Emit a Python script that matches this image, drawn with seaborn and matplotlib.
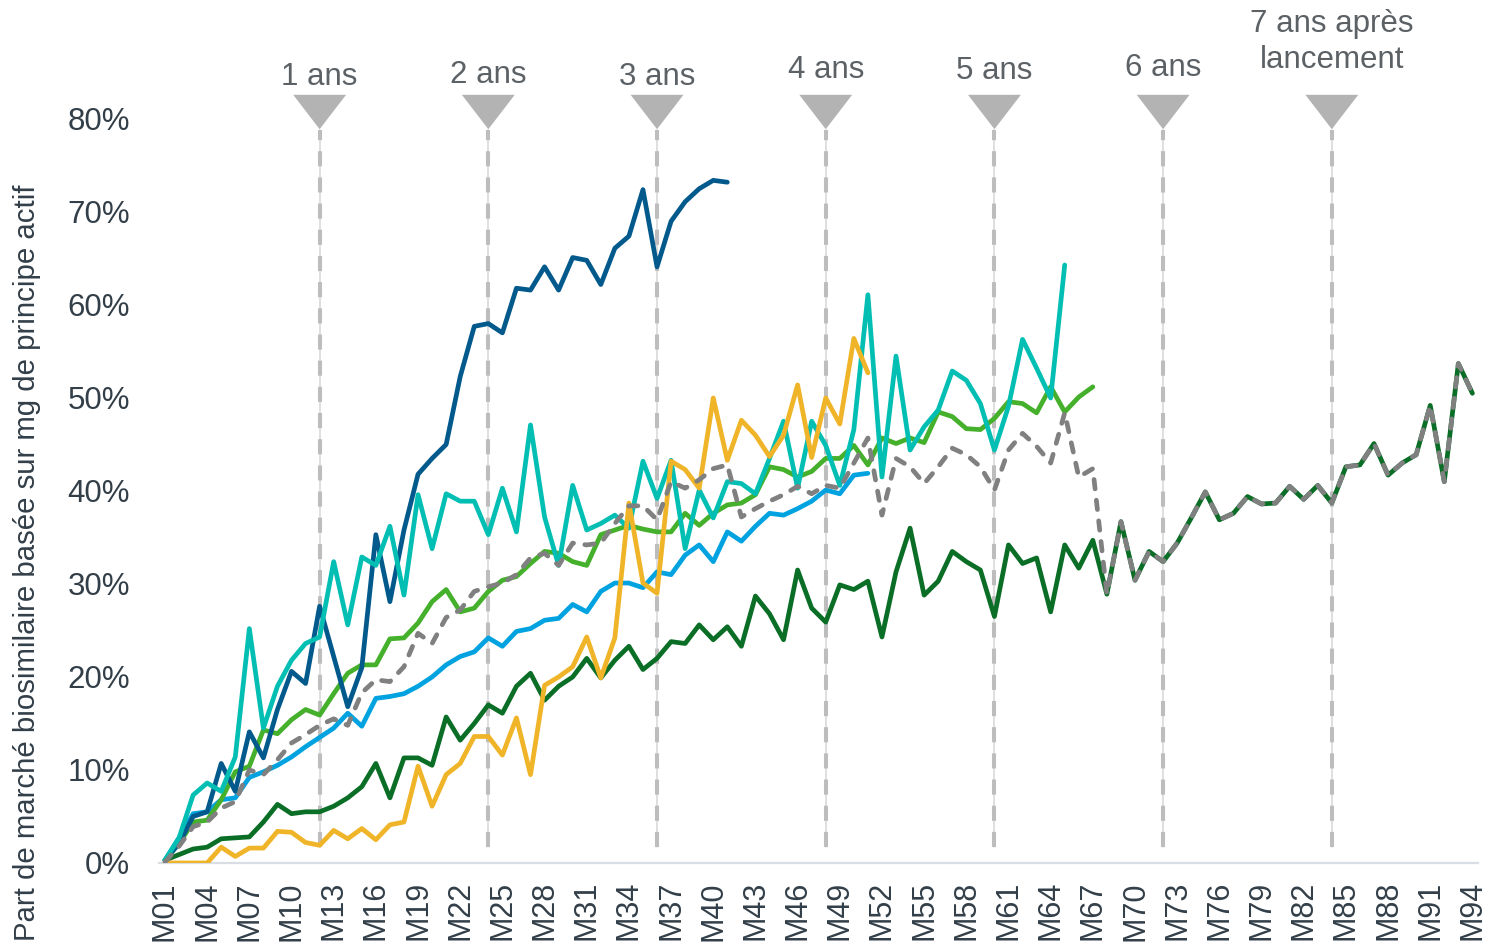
import numpy as np
import pandas as pd
import matplotlib
matplotlib.use("Agg")
import matplotlib.pyplot as plt
from matplotlib.patches import Polygon
from matplotlib.ticker import PercentFormatter, FixedLocator
import seaborn as sns

# Months since launch
months = [f"M{i:02d}" for i in range(1, 95)]

# Biosimilar market share (%) per product, month by month
dark_blue = [0.3, 2.1, 5.0, 5.5, 10.7, 7.7, 14.1, 11.3, 16.5, 20.6, 19.3, 27.6, 22.2, 16.8,
             21.0, 35.3, 28.1, 35.8, 41.8, 43.5, 45.0, 52.3, 57.7, 58.0, 57.0, 61.8, 61.6,
             64.1, 61.6, 65.1, 64.8, 62.2, 66.1, 67.4, 72.4, 64.1, 69.0, 71.1, 72.5, 73.4, 73.2]

teal = [0.3, 2.7, 7.3, 8.6, 7.7, 11.4, 25.2, 14.5, 19.0, 21.8, 23.6, 24.3, 32.4, 25.6, 32.9,
        32.0, 36.2, 28.8, 39.6, 33.8, 39.7, 38.9, 38.9, 35.3, 40.3, 35.6, 47.1, 37.2, 32.0,
        40.6, 35.8, 36.5, 37.4, 36.0, 43.2, 39.2, 43.3, 33.8, 40.1, 37.1, 41.0, 40.8, 39.7,
        43.5, 47.5, 40.3, 47.5, 44.9, 40.6, 46.6, 61.1, 41.5, 54.5, 44.4, 46.9, 48.7, 52.9,
        51.9, 49.4, 44.4, 49.1, 56.3, 53.2, 50.0, 64.3]

green = [0.3, 2.1, 4.4, 4.6, 6.8, 9.8, 10.4, 14.3, 13.9, 15.4, 16.5, 15.9, 18.2, 20.4, 21.3,
         21.3, 24.1, 24.2, 25.8, 28.1, 29.4, 27.0, 27.4, 29.2, 30.4, 30.8, 32.2, 33.5, 33.3,
         32.4, 32.0, 35.3, 35.8, 36.3, 35.9, 35.6, 35.6, 37.6, 36.3, 37.6, 38.5, 38.7, 39.6,
         42.6, 42.3, 41.5, 42.1, 43.5, 43.5, 44.9, 42.8, 45.7, 45.1, 45.7, 45.2, 48.5, 48.0,
         46.7, 46.6, 47.8, 49.6, 49.4, 48.4, 51.2, 48.5, 50.1, 51.2]

light_blue = [0.3, 2.7, 5.3, 5.5, 6.8, 7.0, 9.2, 9.8, 10.5, 11.4, 12.5, 13.5, 14.5, 16.1, 14.7,
              17.7, 17.9, 18.2, 19.0, 20.0, 21.3, 22.2, 22.7, 24.2, 23.3, 24.9, 25.2, 26.1,
              26.3, 27.8, 27.0, 29.2, 30.1, 30.1, 29.6, 31.3, 31.0, 33.1, 34.2, 32.4, 35.6,
              34.6, 36.2, 37.6, 37.4, 38.1, 38.9, 40.1, 39.7, 41.7, 41.9]

yellow = [0.0, 0.0, 0.0, 0.0, 1.7, 0.7, 1.6, 1.6, 3.4, 3.3, 2.2, 1.9, 3.5, 2.6, 3.7, 2.5, 4.1,
          4.4, 10.4, 6.1, 9.5, 10.7, 13.6, 13.6, 11.6, 15.6, 9.5, 19.1, 20.0, 21.1, 24.3, 19.9,
          24.2, 38.7, 30.1, 29.0, 43.2, 42.3, 40.3, 50.0, 43.3, 47.6, 46.0, 43.7, 46.0, 51.4,
          43.6, 50.0, 47.2, 56.4, 52.7]

dark_green = [0.3, 0.9, 1.5, 1.7, 2.6, 2.7, 2.8, 4.4, 6.3, 5.3, 5.5, 5.5, 6.1, 7.0, 8.2, 10.7,
              7.0, 11.3, 11.3, 10.5, 15.7, 13.2, 15.0, 17.0, 16.1, 19.0, 20.4, 17.5, 19.0, 20.0,
              22.0, 19.9, 21.8, 23.3, 20.8, 22.0, 23.8, 23.6, 25.6, 24.0, 25.4, 23.3, 28.7, 26.8,
              24.0, 31.5, 27.4, 25.9, 29.9, 29.4, 30.3, 24.3, 31.3, 36.0, 28.8, 30.3, 33.5, 32.4,
              31.5, 26.5, 34.2, 32.2, 32.8, 27.0, 34.2, 31.7, 34.7, 28.9, 36.7, 30.4, 33.5, 32.4,
              34.4, 37.1, 39.9, 36.9, 37.6, 39.4, 38.6, 38.7, 40.5, 39.1, 40.6, 38.7, 42.6, 42.8,
              45.1, 41.7, 43.0, 43.9, 49.2, 41.0, 53.7, 50.5]

average = [0.1, 1.8, 3.9, 4.4, 5.9, 6.6, 10.0, 9.5, 11.1, 12.9, 13.8, 14.8, 15.5, 14.8, 18.3,
           19.7, 19.5, 21.1, 24.7, 23.6, 26.4, 27.2, 29.2, 29.7, 30.1, 31.0, 32.8, 33.3, 32.0,
           34.4, 34.2, 34.4, 36.5, 38.4, 38.4, 36.9, 41.0, 40.3, 41.2, 42.4, 42.8, 37.2, 38.1,
           38.9, 39.6, 40.5, 39.7, 40.6, 40.3, 43.0, 45.7, 37.4, 43.5, 42.6, 40.8, 42.6, 44.6,
           43.9, 42.6, 40.1, 44.4, 46.2, 44.8, 43.0, 48.4, 41.5, 42.4, 28.9, 36.7, 30.4, 33.5,
           32.4, 34.4, 37.1, 39.9, 36.9, 37.6, 39.4, 38.6, 38.7, 40.5, 39.1, 40.6, 38.7, 42.6,
           42.8, 45.1, 41.7, 43.0, 43.9, 49.2, 41.0, 53.7, 50.5]

# Yearly milestones after launch
milestone_months = ["M12", "M24", "M36", "M48", "M60", "M72", "M84"]
milestone_labels = ["1 ans", "2 ans", "3 ans", "4 ans", "5 ans", "6 ans", "7 ans après\nlancement"]
y_label = "Part de marché biosimilaire basée sur mg de principe actif"

sns.set_theme(style="white")
plt.rcParams["font.family"] = ["Liberation Sans", "DejaVu Sans"]

TEXT = "#323E48"
NOTE = "#5C6166"
FS = 22.5

fig = plt.figure(figsize=(14.88, 9.48), dpi=100)
ax = fig.add_axes([0.1071, 0.0897, 0.8862, 0.7848])

# milestone guides (behind the series); baseline of the last text line, in % units
label_base = [83.66, 83.87, 83.66, 84.41, 84.30, 84.62, 85.48]
for m, lab, yb in zip(milestone_months, milestone_labels, label_base):
    xi = months.index(m)
    ax.plot([xi, xi], [1.7, 78.8], color="#D6D6D6", lw=1.1, zorder=1)
    ax.plot([xi, xi], [1.7, 78.8], color="#BDBDBD", lw=2.9, dashes=(3.75, 2.75), zorder=1)
    ax.add_patch(Polygon([[xi - 1.88, 82.6], [xi + 1.88, 82.6], [xi, 78.9]], closed=True,
                         facecolor="#B3B3B3", edgecolor="none", clip_on=False, zorder=3))
    ax.text(xi, yb, lab, ha="center", va="baseline", fontsize=FS, color=NOTE,
            clip_on=False, linespacing=1.25)

series = [
    (dark_green, "#0B6E26"),
    (light_blue, "#00A3E0"),
    (green, "#45B02B"),
    (dark_blue, "#02598C"),
    (teal, "#03BFB3"),
    (yellow, "#F0B428"),
]
for vals, color in series:
    df = pd.DataFrame({"mois": np.arange(len(vals)), "part": vals})
    sns.lineplot(data=df, x="mois", y="part", color=color, lw=3.4, ax=ax,
                 estimator=None, zorder=4)
    ax.lines[-1].set_solid_joinstyle("round")
    ax.lines[-1].set_solid_capstyle("round")

df_avg = pd.DataFrame({"mois": np.arange(len(average)), "part": average})
sns.lineplot(data=df_avg, x="mois", y="part", color="#808080", lw=3.4, ax=ax,
             estimator=None, zorder=5)
avg_line = ax.lines[-1]
avg_line.set_dashes((2.0, 2.4))
avg_line.set_dash_capstyle("round")
avg_line.set_dash_joinstyle("round")

ax.set_xlim(-0.4, 93.4)
ax.set_ylim(0, 80)
ax.yaxis.set_major_locator(FixedLocator(np.arange(0, 81, 10)))
ax.yaxis.set_major_formatter(PercentFormatter(xmax=100, decimals=0))
ax.set_xticks(np.arange(0, len(months), 3))
ax.set_xticklabels(months[::3], rotation=90)
ax.tick_params(axis="x", length=0, pad=13, labelsize=22, labelcolor=TEXT)
ax.tick_params(axis="y", length=0, pad=21, labelsize=FS, labelcolor=TEXT)

for side in ["left", "top", "right"]:
    ax.spines[side].set_visible(False)
ax.spines["bottom"].set_color("#D8DEE4")
ax.spines["bottom"].set_linewidth(1.6)
ax.grid(False)

ax.set_xlabel("")
ax.set_ylabel(y_label, fontsize=21.2, color=TEXT)
ax.yaxis.set_label_coords(-0.0898, 0.404)

fig.savefig("out.png", dpi=100)
